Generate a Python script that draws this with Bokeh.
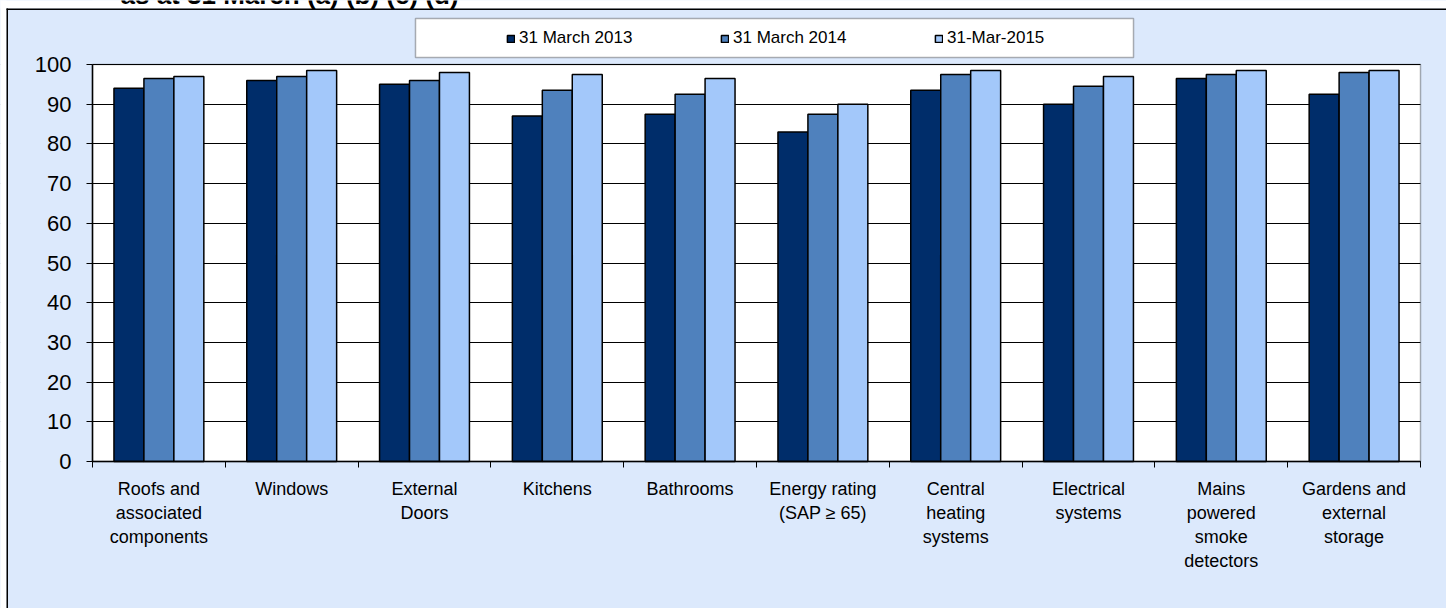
from bokeh.plotting import figure
from bokeh.models import (ColumnDataSource, Range1d, FixedTicker, Legend, LegendItem,
                          BoxAnnotation, Label)
from bokeh.transform import dodge
from bokeh.embed import file_html
from bokeh.resources import INLINE

# ---- data ----
categories = ["Roofs and\nassociated\ncomponents", "Windows", "External\nDoors", "Kitchens",
              "Bathrooms", "Energy rating\n(SAP \u2265 65)", "Central\nheating\nsystems",
              "Electrical\nsystems", "Mains\npowered\nsmoke\ndetectors",
              "Gardens and\nexternal\nstorage"]
series_names = ["31 March 2013", "31 March 2014", "31-Mar-2015"]
v2013 = [94.0, 96.0, 95.0, 87.0, 87.5, 83.0, 93.5, 90.0, 96.5, 92.5]
v2014 = [96.5, 97.0, 96.0, 93.5, 92.5, 87.5, 97.5, 94.5, 97.5, 98.0]
v2015 = [97.0, 98.5, 98.0, 97.5, 96.5, 90.0, 98.5, 97.0, 98.5, 98.5]
y_ticks = list(range(0, 101, 10))
title_text = "as at 31 March (a) (b) (c) (d)"

colors = ["#002D6A", "#4F81BD", "#A3C8FA"]
BG = "#DCE9FC"
FONT = "Liberation Sans"

# ---- layout (pixels) ----
W, H = 1446, 608
FL, FR, FT, FB = 92, 1420, 64, 461   # plot-area edges on the canvas
YMAX = 100

n = len(categories)
xppu = (FR - FL) / n
yppu = (FB - FT) / YMAX
x_start, x_end = -FL / xppu, n + (W - FR) / xppu
y_start, y_end = -(H - FB) / yppu, YMAX + FT / yppu

centers = [i + 0.5 for i in range(n)]
bounds = list(range(n + 1))

src = ColumnDataSource(dict(x=centers, y2013=v2013, y2014=v2014, y2015=v2015))

p = figure(width=W, height=H, output_backend="svg", toolbar_location=None,
           x_range=Range1d(x_start, x_end), y_range=Range1d(y_start, y_end),
           min_border=0)
p.border_fill_color = BG
p.background_fill_color = BG
p.outline_line_color = None


def cbox(l, r, t, b, **kw):
    return BoxAnnotation(left=l, right=r, top=t, bottom=b,
                         left_units="canvas", right_units="canvas",
                         top_units="canvas", bottom_units="canvas", **kw)


# white plot area
p.add_layout(BoxAnnotation(left=0, right=n, bottom=0, top=YMAX, fill_color="white",
                           fill_alpha=1.0, line_alpha=0, level="image"))

p.xgrid.grid_line_color = None
p.ygrid.grid_line_color = "black"
p.ygrid.grid_line_width = 1.2

# cover grid lines outside the plot area
p.add_layout(cbox(-20, FL, -20, H + 20, fill_color=BG, fill_alpha=1.0, line_alpha=0,
                  level="underlay"))
p.add_layout(cbox(FR, W + 20, -20, H + 20, fill_color=BG, fill_alpha=1.0, line_alpha=0,
                  level="underlay"))

bw = 0.2256
offs = [-bw, 0.0, bw]
cols = ["y2013", "y2014", "y2015"]
renderers = []
for c, o, col in zip(cols, offs, colors):
    r = p.vbar(x=dodge("x", o, range=p.x_range), top=c, width=bw, bottom=0, source=src,
               fill_color=col, line_color="black", line_width=1.5)
    renderers.append(r)

# plot-area border
p.add_layout(BoxAnnotation(left=0, right=n, bottom=0, top=YMAX, fill_alpha=0,
                           line_color="black", line_width=1.5, level="annotation"))

# axes
xa = p.xaxis[0]
xa.fixed_location = 0
xa.bounds = (0, n)
xa.ticker = FixedTicker(ticks=centers, minor_ticks=bounds)
xa.major_label_overrides = {c: lab for c, lab in zip(centers, categories)}
xa.major_tick_out = 0
xa.major_tick_in = 0
xa.minor_tick_out = 6
xa.minor_tick_in = 0
xa.minor_tick_line_color = "black"
xa.axis_line_color = "black"
xa.axis_line_width = 1.5
xa.major_label_text_font = FONT
xa.major_label_text_font_size = "18px"
xa.major_label_text_color = "black"
xa.major_label_standoff = 11

ya = p.yaxis[0]
ya.fixed_location = 0
ya.bounds = (0, YMAX)
ya.ticker = FixedTicker(ticks=y_ticks)
ya.major_tick_out = 6
ya.major_tick_in = 0
ya.minor_tick_out = 0
ya.minor_tick_in = 0
ya.major_tick_line_color = "black"
ya.axis_line_color = "black"
ya.axis_line_width = 1.5
ya.major_label_text_font = FONT
ya.major_label_text_font_size = "22px"
ya.major_label_text_color = "black"
ya.major_label_standoff = 15

# legend frame
p.add_layout(cbox(415, 1133, 18, 57, fill_color="white", fill_alpha=1.0,
                  line_color="black", line_width=1.5, level="annotation"))

legend = Legend(items=[LegendItem(label=s, renderers=[r]) for s, r in zip(series_names, renderers)],
                orientation="horizontal", location=(506, H - 48),
                padding=0, margin=0, spacing=81, label_width=120, label_standoff=4,
                glyph_width=9, glyph_height=9,
                label_text_font=FONT, label_text_font_size="17px",
                label_text_color="black",
                background_fill_alpha=0, border_line_alpha=0)
p.add_layout(legend, "center")

# outer white margin + black border lines
p.add_layout(cbox(-20, 6, -20, H + 20, fill_color="white", fill_alpha=1.0, line_alpha=0,
                  level="overlay"))
p.add_layout(cbox(-20, W + 20, -20, 8, fill_color="white", fill_alpha=1.0, line_alpha=0,
                  level="overlay"))

p.add_layout(Label(x=120, y=-6, x_units="canvas", y_units="canvas", text=title_text,
                   text_font=FONT, text_font_style="bold", text_font_size="26px",
                   text_baseline="alphabetic", text_color="black", level="overlay"))

p.add_layout(cbox(6, 7.5, 8, H + 20, fill_color="black", fill_alpha=1.0, line_alpha=0,
                  level="overlay"))
p.add_layout(cbox(6, W + 20, 8, 9.5, fill_color="black", fill_alpha=1.0, line_alpha=0,
                  level="overlay"))

open("out.html", "w").write(file_html(p, INLINE))
